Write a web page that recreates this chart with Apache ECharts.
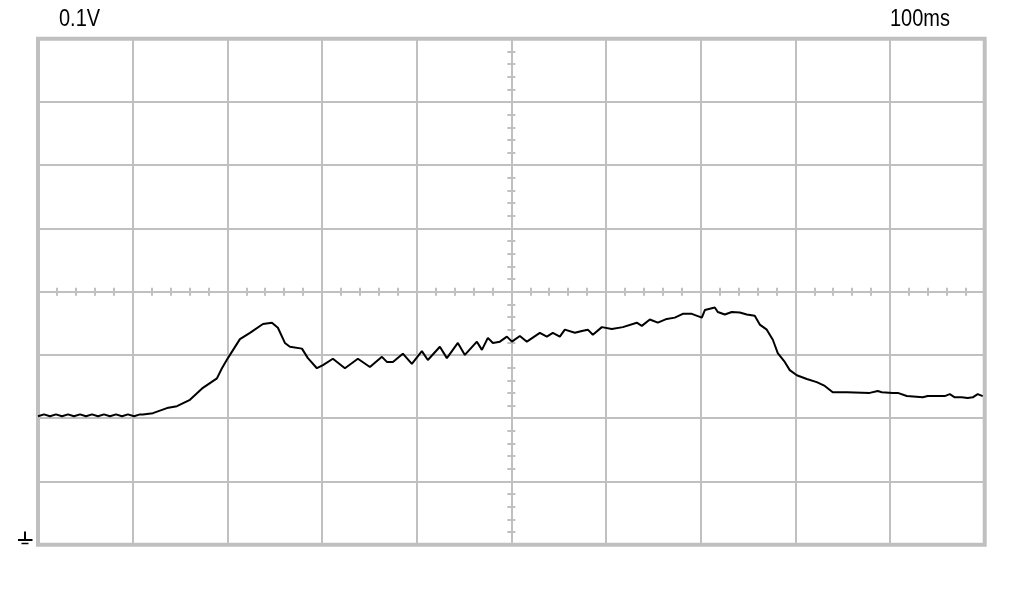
<!DOCTYPE html>
<html>
<head>
<meta charset="utf-8">
<script src="https://cdn.jsdelivr.net/npm/echarts@6/dist/echarts.min.js"></script>
<style>html,body{margin:0;padding:0;background:#fff}#c{width:1024px;height:589px}</style>
</head>
<body>
<div id="c"></div>
<script>
// Oscilloscope trace: time in ms (100 ms/div), voltage in V (0.1 V/div)
var voltLabel = '0.1V';
var timeLabel = '100ms';
var timeMs = [0,6.3,12.7,19.0,25.3,31.7,38.0,44.4,50.7,57.0,63.4,69.7,76.0,82.4,88.7,95.0,101.4,107.7,
  110.9,121.4,136.2,146.8,160.5,174.2,189.0,194.3,200.6,213.3,223.9,237.6,247.1,253.4,260.8,266.1,278.8,285.1,
  294.6,301.0,311.5,324.2,337.9,350.6,363.3,368.5,374.9,385.4,394.9,405.5,411.8,424.5,431.9,443.5,450.9,463.6,
  468.9,475.2,480.5,487.9,495.3,500.6,509.0,516.4,530.1,537.5,543.8,551.2,556.5,567.1,574.5,580.8,586.1,595.6,
  606.1,617.8,632.5,637.8,646.3,654.7,664.2,672.7,681.1,690.6,701.2,704.4,714.9,718.1,725.5,732.8,741.3,748.7,
  757.1,762.4,769.8,776.2,781.4,788.8,794.1,801.5,812.1,822.6,831.1,839.5,854.3,878.6,887.0,891.3,902.9,908.2,
  917.7,934.6,939.8,957.8,963.1,968.4,975.7,982.1,987.4,992.6,997.9];
var volts = [0.203,0.206,0.203,0.206,0.203,0.206,0.203,0.206,0.203,0.206,0.203,0.206,0.203,0.206,0.203,0.206,0.203,0.206,
  0.206,0.208,0.216,0.219,0.229,0.248,0.263,0.279,0.295,0.325,0.335,0.349,0.351,0.343,0.319,0.313,0.310,0.295,
  0.279,0.284,0.294,0.279,0.294,0.281,0.297,0.289,0.289,0.302,0.286,0.306,0.292,0.313,0.295,0.319,0.300,0.321,
  0.308,0.327,0.319,0.321,0.329,0.321,0.330,0.321,0.335,0.329,0.335,0.329,0.340,0.335,0.338,0.340,0.332,0.344,
  0.341,0.344,0.351,0.346,0.356,0.351,0.357,0.359,0.365,0.365,0.359,0.371,0.375,0.368,0.364,0.368,0.367,0.364,
  0.362,0.348,0.340,0.324,0.303,0.289,0.276,0.268,0.262,0.257,0.251,0.241,0.241,0.240,0.243,0.241,0.240,0.240,
  0.235,0.233,0.235,0.235,0.238,0.233,0.233,0.232,0.233,0.238,0.235];

var data = timeMs.map(function (t, i) { return [t, volts[i]]; });
var GRID = '#c0c0c0';
// half tick length (px) expressed in axis units, to center the minor ticks on the center lines
var halfTickV = 0.8 * 4 / 506;
var chart = echarts.init(document.getElementById('c'), null, { renderer: 'canvas' });
chart.setOption({
  animation: false,
  backgroundColor: '#ffffff',
  grid: { left: 38, top: 38.7, right: 39.3, bottom: 44.3, show: true, borderColor: GRID, borderWidth: 4, outerBoundsMode: 'none' },
  xAxis: [
    { type: 'value', min: 0, max: 1000, interval: 100, axisLine: { show: false }, axisTick: { show: false },
      axisLabel: { show: false }, splitLine: { show: true, lineStyle: { color: GRID, width: 2 } } },
    { type: 'value', gridIndex: 0, position: 'bottom', min: 0, max: 1000, interval: 20,
      axisLine: { show: false, onZero: true, onZeroAxisIndex: 2 }, axisLabel: { show: false }, splitLine: { show: false },
      axisTick: { show: true, inside: false, length: 8, lineStyle: { color: GRID, width: 2 } } }
  ],
  yAxis: [
    { type: 'value', min: 0, max: 0.8, interval: 0.1, axisLine: { show: false }, axisTick: { show: false },
      axisLabel: { show: false }, splitLine: { show: true, lineStyle: { color: GRID, width: 2 } } },
    { type: 'value', gridIndex: 0, position: 'left', offset: -477.35, min: 0, max: 0.8, interval: 0.02,
      axisLine: { show: false }, axisLabel: { show: false }, splitLine: { show: false },
      axisTick: { show: true, inside: false, length: 8, lineStyle: { color: GRID, width: 2 } } },
    { type: 'value', gridIndex: 0, position: 'right', min: -0.4 - halfTickV, max: 0.4 - halfTickV, show: false,
      splitLine: { show: false } }
  ],
  series: [{
    type: 'line', xAxisIndex: 0, yAxisIndex: 0, data: data, showSymbol: false, smooth: false,
    lineStyle: { color: '#000', width: 2 }, z: 5
  }],
  graphic: [
    { type: 'text', x: 59, y: 8, scaleY: 1.15, style: { text: voltLabel, font: '20px "Liberation Sans"', fill: '#000', verticalAlign: 'top' } },
    { type: 'text', x: 890, y: 8, scaleY: 1.15, style: { text: timeLabel, font: '20px "Liberation Sans"', fill: '#000', verticalAlign: 'top' } },
    { type: 'line', shape: { x1: 25, y1: 531.5, x2: 25, y2: 539 }, style: { stroke: '#000', lineWidth: 2 } },
    { type: 'line', shape: { x1: 18, y1: 540, x2: 32.5, y2: 540 }, style: { stroke: '#000', lineWidth: 2 } },
    { type: 'line', shape: { x1: 21.5, y1: 543.5, x2: 28.5, y2: 543.5 }, style: { stroke: '#000', lineWidth: 1.5 } }
  ]
});
</script>
</body>
</html>
